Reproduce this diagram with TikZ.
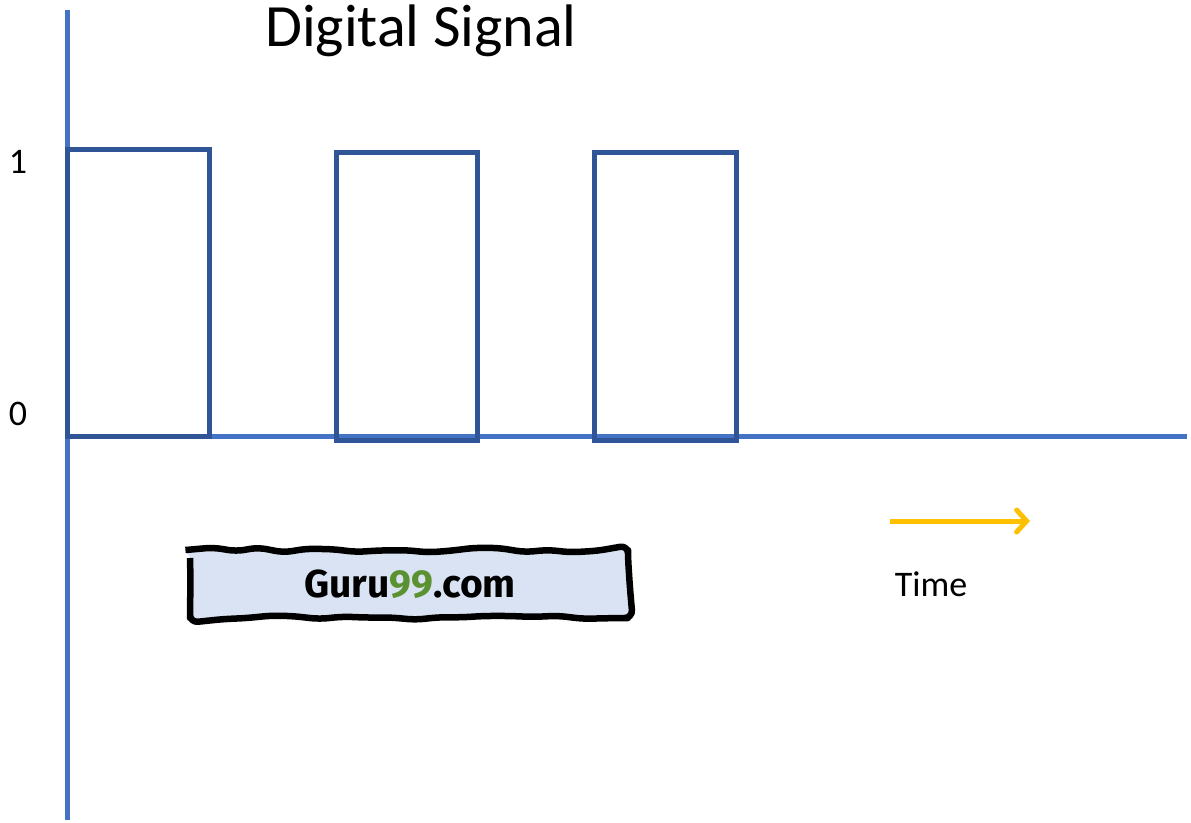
\documentclass[tikz,border=0pt]{standalone}
\usepackage{fontspec}
\setmainfont{Carlito}
\newfontfamily\logofont{Fira Sans}
\usetikzlibrary{arrows.meta,decorations.pathmorphing}
\definecolor{axisblue}{HTML}{4472C4}
\definecolor{pulseblue}{HTML}{2F5597}
\definecolor{timeyellow}{HTML}{FFC000}
\definecolor{logofill}{HTML}{DAE3F3}
\definecolor{logogreen}{HTML}{5B9231}
\begin{document}
\begin{tikzpicture}[x=1pt, y=-1pt,
    axis/.style={axisblue, line width=5pt},
    pulse/.style={pulseblue, line width=5pt},
    level/.style={font=\fontsize{36}{40}\selectfont, inner sep=0pt}]
    \useasboundingbox (0,0) rectangle (1191,822);

    % Axes
    \coordinate (origin) at (67,436);
    \coordinate (ytop) at (67,10);
    \coordinate (ybot) at (67,820);
    \coordinate (xend) at (1187,436);
    \draw[axis] (ybot) -- (ytop);
    \draw[axis] (origin) -- (xend);

    % Pulses
    \draw[pulse] (67,436) -- (67,149) -- (209,149) -- (209,436) -- cycle;
    \draw[pulse] (336,440) rectangle (477,152);
    \draw[pulse] (594,440) rectangle (736,152);

    % Labels
    \node[inner sep=0pt] (title) at (421,31) {\fontsize{60}{66}\selectfont Digital Signal};
    \node[level] (one) at (18,162) {1};
    \node[level] (zero) at (18,414) {0};
    \node[level] (time) at (931,584) {Time};

    % Time arrow
    \coordinate (tstart) at (890,521);
    \coordinate (tend) at (1030,521);
    \draw[timeyellow, line width=5pt, -{Straight Barb[length=10pt, width=22pt, line cap=round]}] (tstart) -- (tend);

    % Logo
    \pgfmathsetseed{7}
    \draw[black, line width=6.5pt, fill=logofill, line join=round,
          decorate, decoration={random steps, segment length=24pt, amplitude=2.5pt}, rounded corners=8pt]
        (190,550) rectangle (628,618);
    \node (logo) at (410,584) {\logofont\bfseries\fontsize{39}{44}\selectfont Guru\textcolor{logogreen}{99}.com};
\end{tikzpicture}
\end{document}
